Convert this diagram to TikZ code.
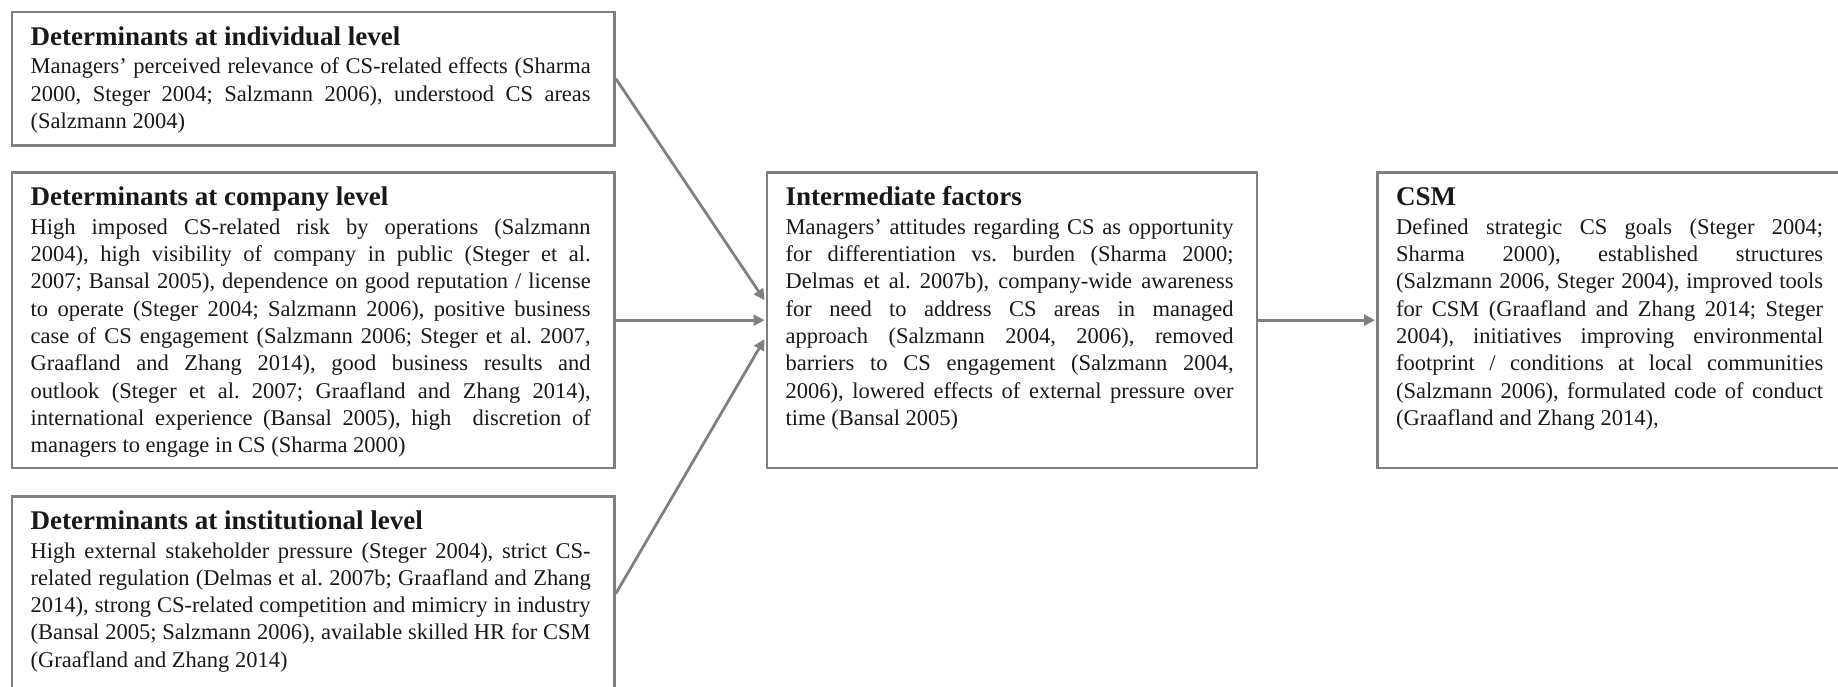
\documentclass[tikz,border=0pt]{standalone}
\usepackage{fontspec}
\setmainfont{Liberation Serif}
\usetikzlibrary{arrows.meta,calc}
\definecolor{boxgray}{RGB}{128,128,128}
\definecolor{txtcol}{RGB}{25,25,25}
\newcommand\bodyfont{\fontsize{22.5}{27.3}\selectfont\frenchspacing}
\newcommand\headfont{\fontsize{27}{30}\selectfont\bfseries}
\tikzset{
  box/.style={draw=boxgray, line width=2.8pt, inner sep=0pt, anchor=north west},
  txtbox/.style={inner sep=0pt, anchor=base west, align=justify, font=\bodyfont, text=txtcol},
  conn/.style={draw=boxgray, line width=2.8pt, -{Triangle[length=11pt,width=11pt]}},
}
\begin{document}
\begin{tikzpicture}[x=1pt,y=-1pt]
\useasboundingbox (0,0) rectangle (1838,686);
\clip (0,0) rectangle (1838,686);
% boxes
\node[box, minimum width=602.5pt, minimum height=133.5pt] (ind) at (10.5,10.5) {};
\node[box, minimum width=602.5pt, minimum height=295.5pt] (comp) at (10.5,171) {};
\node[box, minimum width=602.5pt, minimum height=195pt] (inst) at (10.5,494.7) {};
\node[box, minimum width=490pt, minimum height=295.5pt] (inter) at (765.5,171) {};
\node[box, minimum width=468pt, minimum height=295.5pt] (csm) at (1376,171) {};
% texts
\node[txtbox, text width=560pt] (indt) at ($(ind.north west)+(20,34.5)$) {{\headfont Determinants at individual level\par}\vspace{1.5pt}%
Managers’ perceived relevance of CS-related effects (Sharma\linebreak
2000, Steger 2004; Salzmann 2006), understood CS areas\linebreak
(Salzmann 2004)};
\node[txtbox, text width=560pt] (compt) at ($(comp.north west)+(20,34.5)$) {{\headfont Determinants at company level\par}\vspace{1.5pt}%
High imposed CS-related risk by operations (Salzmann\linebreak
2004), high visibility of company in public (Steger et al.\linebreak
2007; Bansal 2005), dependence on good reputation / license\linebreak
to operate (Steger 2004; Salzmann 2006), positive business\linebreak
case of CS engagement (Salzmann 2006; Steger et al. 2007,\linebreak
Graafland and Zhang 2014), good business results and\linebreak
outlook (Steger et al. 2007; Graafland and Zhang 2014),\linebreak
international experience (Bansal 2005), high \ discretion of\linebreak
managers to engage in CS (Sharma 2000)};
\node[txtbox, text width=560pt] (instt) at ($(inst.north west)+(20,34.5)$) {{\headfont Determinants at institutional level\par}\vspace{1.5pt}%
High external stakeholder pressure (Steger 2004), strict CS-\linebreak
related regulation (Delmas et al. 2007b; Graafland and Zhang\linebreak
2014), strong CS-related competition and mimicry in industry\linebreak
(Bansal 2005; Salzmann 2006), available skilled HR for CSM\linebreak
(Graafland and Zhang 2014)};
\node[txtbox, text width=448pt] (intert) at ($(inter.north west)+(20,34.5)$) {{\headfont Intermediate factors\par}\vspace{1.5pt}%
Managers’ attitudes regarding CS as opportunity\linebreak
for differentiation vs. burden (Sharma 2000;\linebreak
Delmas et al. 2007b), company-wide awareness\linebreak
for need to address CS areas in managed\linebreak
approach (Salzmann 2004, 2006), removed\linebreak
barriers to CS engagement (Salzmann 2004,\linebreak
2006), lowered effects of external pressure over\linebreak
time (Bansal 2005)};
\node[txtbox, text width=427pt] (csmt) at ($(csm.north west)+(20,34.5)$) {{\headfont CSM\par}\vspace{1.5pt}%
Defined strategic CS goals (Steger 2004;\linebreak
Sharma 2000), established structures\linebreak
(Salzmann 2006, Steger 2004), improved tools\linebreak
for CSM (Graafland and Zhang 2014; Steger\linebreak
2004), initiatives improving environmental\linebreak
footprint / conditions at local communities\linebreak
(Salzmann 2006), formulated code of conduct\linebreak
(Graafland and Zhang 2014),};
% connectors
\coordinate (in1) at ($(inter.west)+(-1,-20)$);
\coordinate (in2) at ($(inter.west)+(-1,0)$);
\coordinate (in3) at ($(inter.west)+(-1,19)$);
\coordinate (out1) at ($(csm.west)+(-1,0)$);
\draw[conn] (ind.east) -- (in1);
\draw[conn] (comp.east) -- (in2);
\draw[conn] (inst.east) -- (in3);
\draw[conn] (inter.east) -- (out1);
\end{tikzpicture}
\end{document}
